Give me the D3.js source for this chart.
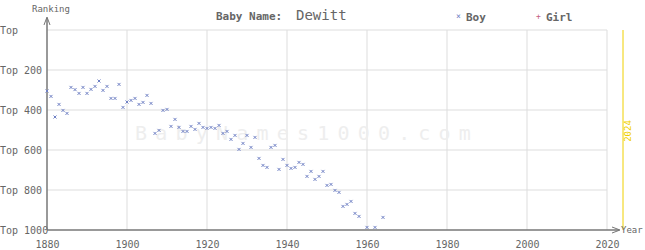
<!DOCTYPE html>
<html>
<head>
<meta charset="utf-8">
<script src="https://cdn.jsdelivr.net/npm/d3@7"></script>
<style>
  body { margin: 0; background: #fff; }
  text { font-family: "DejaVu Sans Mono", monospace; }
</style>
</head>
<body>
<div id="chart"></div>
<script>
const years = [1880, 1881, 1882, 1883, 1884, 1885, 1886, 1887, 1888, 1889,
  1890, 1891, 1892, 1893, 1894, 1895, 1896, 1897, 1898, 1899,
  1900, 1901, 1902, 1903, 1904, 1905, 1906, 1907, 1908, 1909,
  1910, 1911, 1912, 1913, 1914, 1915, 1916, 1917, 1918, 1919,
  1920, 1921, 1922, 1923, 1924, 1925, 1926, 1927, 1928, 1929,
  1930, 1931, 1932, 1933, 1934, 1935, 1936, 1937, 1938, 1939,
  1940, 1941, 1942, 1943, 1944, 1945, 1946, 1947, 1948, 1949,
  1950, 1951, 1952, 1953, 1954, 1955, 1956, 1957, 1958, 1960,
  1962, 1964]
const boyRanks = [305, 332, 435, 372, 402, 417, 287, 298, 317, 287,
  317, 297, 282, 255, 302, 282, 342, 342, 272, 387,
  360, 352, 342, 372, 362, 327, 367, 517, 502, 402,
  397, 482, 447, 487, 507, 507, 482, 497, 467, 487,
  492, 487, 492, 477, 517, 507, 547, 527, 597, 567,
  527, 587, 537, 642, 677, 687, 587, 577, 697, 647,
  677, 692, 687, 662, 672, 732, 707, 747, 732, 707,
  777, 772, 802, 812, 882, 872, 857, 917, 932, 987,
  987, 937]
const xTicks = [1880, 1900, 1920, 1940, 1960, 1980, 2000, 2020]
const yTicks = [0, 200, 400, 600, 800, 1000]

const width = 645
const height = 250
const margin = {top: 30, left: 47, right: 38, bottom: 20}

const svg = d3.select('#chart')
  .append('svg')
  .attr('width', width)
  .attr('height', height)

const x = d3.scaleLinear()
  .domain([1880, 2020])
  .range([margin.left, width - margin.right + 0])

const y = d3.scaleLinear()
  .domain([0, 1000])
  .range([margin.top, height - margin.bottom])

// grid
svg.append('g')
  .selectAll('line')
  .data(xTicks.slice(1))
  .join('line')
    .attr('x1', d => x(d)).attr('x2', d => x(d))
    .attr('y1', y(0)).attr('y2', y(1000))
    .attr('stroke', '#ddd')
svg.append('g')
  .selectAll('line')
  .data(yTicks.slice(0, -1))
  .join('line')
    .attr('x1', x(1880)).attr('x2', x(2020))
    .attr('y1', d => y(d)).attr('y2', d => y(d))
    .attr('stroke', '#ddd')

// watermark
svg.append('text')
  .attr('x', 135).attr('y', 140)
  .attr('font-size', 20)
  .attr('letter-spacing', 8.2)
  .attr('fill', '#eee')
  .text('BabyNames1000.com')

// 2024 line
svg.append('line')
  .attr('x1', x(2024)).attr('x2', x(2024))
  .attr('y1', y(0)).attr('y2', y(1000))
  .attr('stroke', '#f0d000')
svg.append('text')
  .attr('transform', `translate(${x(2024) + 8}, 131) rotate(-90)`)
  .attr('text-anchor', 'middle')
  .attr('font-size', 9)
  .attr('fill', '#f0d000')
  .text('2024')

// axes
const axisColor = '#777'
const xAxis = g => {
  g.call(d3.axisBottom(x).tickValues(xTicks).tickFormat(d3.format('d')).tickSize(0).tickPadding(11))
  g.attr('transform', `translate(0, ${y(1000)})`)
  g.select('.domain').remove()
  g.selectAll('text').attr('fill', '#666').attr('font-size', 10).attr('font-family', '"DejaVu Sans Mono", monospace')
}
const yAxis = g => {
  g.call(d3.axisLeft(y).tickValues(yTicks).tickFormat(d => d === 0 ? 'Top' : 'Top ' + d).tickSize(0).tickPadding(0))
  g.attr('transform', `translate(${margin.left}, 0)`)
  g.select('.domain').remove()
  g.selectAll('text').attr('text-anchor', 'start').attr('x', -47).attr('fill', '#666').attr('font-size', 10).attr('font-family', '"DejaVu Sans Mono", monospace')
}
svg.append('g').call(xAxis)
svg.append('g').call(yAxis)

svg.append('line')
  .attr('x1', x(1880)).attr('x2', width - 26)
  .attr('y1', y(1000)).attr('y2', y(1000))
  .attr('stroke', axisColor).attr('stroke-width', 1.5)
svg.append('line')
  .attr('x1', x(1880)).attr('x2', x(1880))
  .attr('y1', 18).attr('y2', y(1000))
  .attr('stroke', axisColor).attr('stroke-width', 1.5)
svg.append('path')
  .attr('d', `M${x(1880) - 3},${25} L${x(1880)},${17} L${x(1880) + 3},${25}`)
  .attr('fill', 'none').attr('stroke', axisColor)
svg.append('path')
  .attr('d', `M${width - 33},${y(1000) - 3} L${width - 25},${y(1000)} L${width - 33},${y(1000) + 3}`)
  .attr('fill', 'none').attr('stroke', axisColor)
svg.append('text')
  .attr('x', 32).attr('y', 12)
  .attr('font-size', 9).attr('fill', '#666')
  .text('Ranking')
svg.append('text')
  .attr('x', width - 24).attr('y', y(1000) + 3)
  .attr('font-size', 9).attr('fill', '#666')
  .text('Year')

// title
svg.append('text')
  .attr('x', 216).attr('y', 20)
  .attr('font-size', 11).attr('font-weight', 'bold').attr('fill', '#666')
  .text('Baby Name:')
svg.append('text')
  .attr('x', 296).attr('y', 20)
  .attr('font-size', 14).attr('fill', '#666')
  .text('Dewitt')

// legend
const boyColor = '#6f80c4'
const girlColor = '#c4607f'
svg.append('text')
  .attr('x', 456).attr('y', 19)
  .attr('font-size', 8).attr('fill', boyColor)
  .text('×')
svg.append('text')
  .attr('x', 466).attr('y', 21)
  .attr('font-size', 11).attr('font-weight', 'bold').attr('fill', '#666')
  .text('Boy')
svg.append('text')
  .attr('x', 536).attr('y', 19)
  .attr('font-size', 8).attr('fill', girlColor)
  .text('+')
svg.append('text')
  .attr('x', 546).attr('y', 21)
  .attr('font-size', 11).attr('font-weight', 'bold').attr('fill', '#666')
  .text('Girl')

// points
const pts = years.map((yr, i) => ({year: yr, rank: boyRanks[i]}))
svg.append('g')
  .attr('stroke', boyColor)
  .attr('stroke-width', 1)
  .selectAll('path')
  .data(pts)
  .join('path')
    .attr('d', d => {
      const cx = x(d.year), cy = y(d.rank)
      return `M${cx - 1.5},${cy - 1.5}L${cx + 1.5},${cy + 1.5}M${cx - 1.5},${cy + 1.5}L${cx + 1.5},${cy - 1.5}`
    })
</script>
</body>
</html>
